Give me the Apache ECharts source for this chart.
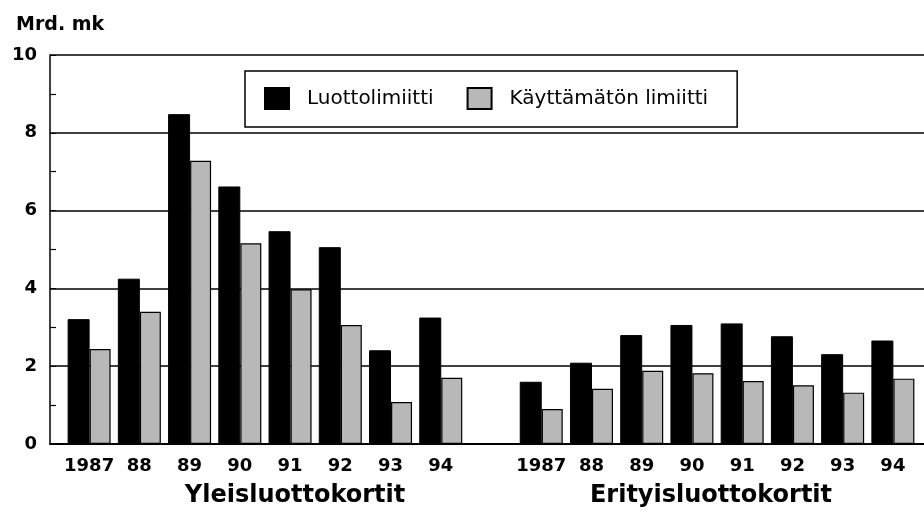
<!DOCTYPE html>
<html>
<head>
<meta charset="utf-8">
<script src="https://cdn.jsdelivr.net/npm/echarts@6/dist/echarts.min.js"></script>
<style>
html,body{margin:0;padding:0;background:#fff;}
#chart{width:924px;height:510px;}
</style>
</head>
<body>
<div id="chart"></div>
<script>
// Categories (two groups of years, separated by one empty slot)
const yearsYleis = ['1987', '88', '89', '90', '91', '92', '93', '94'];
const yearsErity = ['1987', '88', '89', '90', '91', '92', '93', '94'];
const groupNames = ['Yleisluottokortit', 'Erityisluottokortit'];
const seriesNames = ['Luottolimiitti', 'Käyttämätön limiitti'];

// Values, Mrd. mk
const limitYleis   = [3.21, 4.25, 8.48, 6.62, 5.47, 5.06, 2.41, 3.25];
const unusedYleis  = [2.44, 3.40, 7.28, 5.16, 3.98, 3.06, 1.08, 1.70];
const limitErity   = [1.60, 2.09, 2.80, 3.06, 3.10, 2.77, 2.31, 2.66];
const unusedErity  = [0.90, 1.42, 1.88, 1.82, 1.62, 1.51, 1.32, 1.68];

const yTicks = [0, 2, 4, 6, 8, 10];

const categories = yearsYleis.concat(['']).concat(yearsErity);
const limitData = limitYleis.concat([null]).concat(limitErity);
const unusedData = unusedYleis.concat([null]).concat(unusedErity);

const FONT = 'DejaVu Sans';

const chart = echarts.init(document.getElementById('chart'));
chart.setOption({
  animation: false,
  backgroundColor: '#fff',
  title: [
    { text: 'Mrd. mk', left: 11, top: 11,
      textStyle: { fontFamily: FONT, fontWeight: 'bold', fontSize: 19, color: '#000' } },
    { text: groupNames[0], left: 290, top: 479, textAlign: 'center',
      textStyle: { fontFamily: FONT, fontWeight: 'bold', fontSize: 24, color: '#000' } },
    { text: groupNames[1], left: 706, top: 479, textAlign: 'center',
      textStyle: { fontFamily: FONT, fontWeight: 'bold', fontSize: 24, color: '#000' } }
  ],
  legend: {
    data: seriesNames,
    left: 245, top: 71,
    orient: 'horizontal',
    icon: 'rect',
    padding: [16, 29, 17, 19],
    itemWidth: 24, itemHeight: 21,
    itemGap: 33,
    borderColor: '#000', borderWidth: 1.5,
    backgroundColor: '#fff',
    textStyle: { fontFamily: FONT, fontSize: 20, color: '#000', padding: [0, 0, 0, 13] }
  },
  grid: [
    { left: 50, right: 0, top: 55, bottom: 66 },
    { left: 64, right: 6, top: 55, bottom: 66 }
  ],
  xAxis: [
    { type: 'value', gridIndex: 0, min: 0, max: 1,
      axisLine: { show: true, lineStyle: { color: '#000', width: 2 } },
      axisTick: { show: false }, axisLabel: { show: false }, splitLine: { show: false } },
    { type: 'category', gridIndex: 1, data: categories,
      axisLine: { show: false }, axisTick: { show: false },
      axisLabel: { interval: 0, margin: 13, fontFamily: FONT, fontWeight: 'bold', fontSize: 18, color: '#000' } }
  ],
  yAxis: [
    { type: 'value', gridIndex: 0, min: yTicks[0], max: yTicks[yTicks.length - 1], interval: 2,
      axisLine: { show: true, lineStyle: { color: '#000', width: 1.5 } },
      axisTick: { show: true, inside: true, length: 6, lineStyle: { color: '#000' } },
      minorTick: { show: true, splitNumber: 2, length: 6, lineStyle: { color: '#000', width: 1.2 } },
      splitLine: { show: true, lineStyle: { color: '#000', width: 1.6 } },
      axisLabel: { margin: 13, fontFamily: FONT, fontWeight: 'bold', fontSize: 18, color: '#000' } },
    { type: 'value', gridIndex: 1, min: 0, max: 10, show: false }
  ],
  series: [
    { name: seriesNames[0], type: 'bar', xAxisIndex: 1, yAxisIndex: 1,
      data: limitData, barWidth: 22, barGap: '0%',
      itemStyle: { color: '#000', borderColor: '#000', borderWidth: 1 } },
    { name: seriesNames[1], type: 'bar', xAxisIndex: 1, yAxisIndex: 1,
      data: unusedData, barWidth: 21, barGap: '0%',
      itemStyle: { color: '#b8b8b8', borderColor: '#000', borderWidth: 1.2 } }
  ]
});
</script>
</body>
</html>
